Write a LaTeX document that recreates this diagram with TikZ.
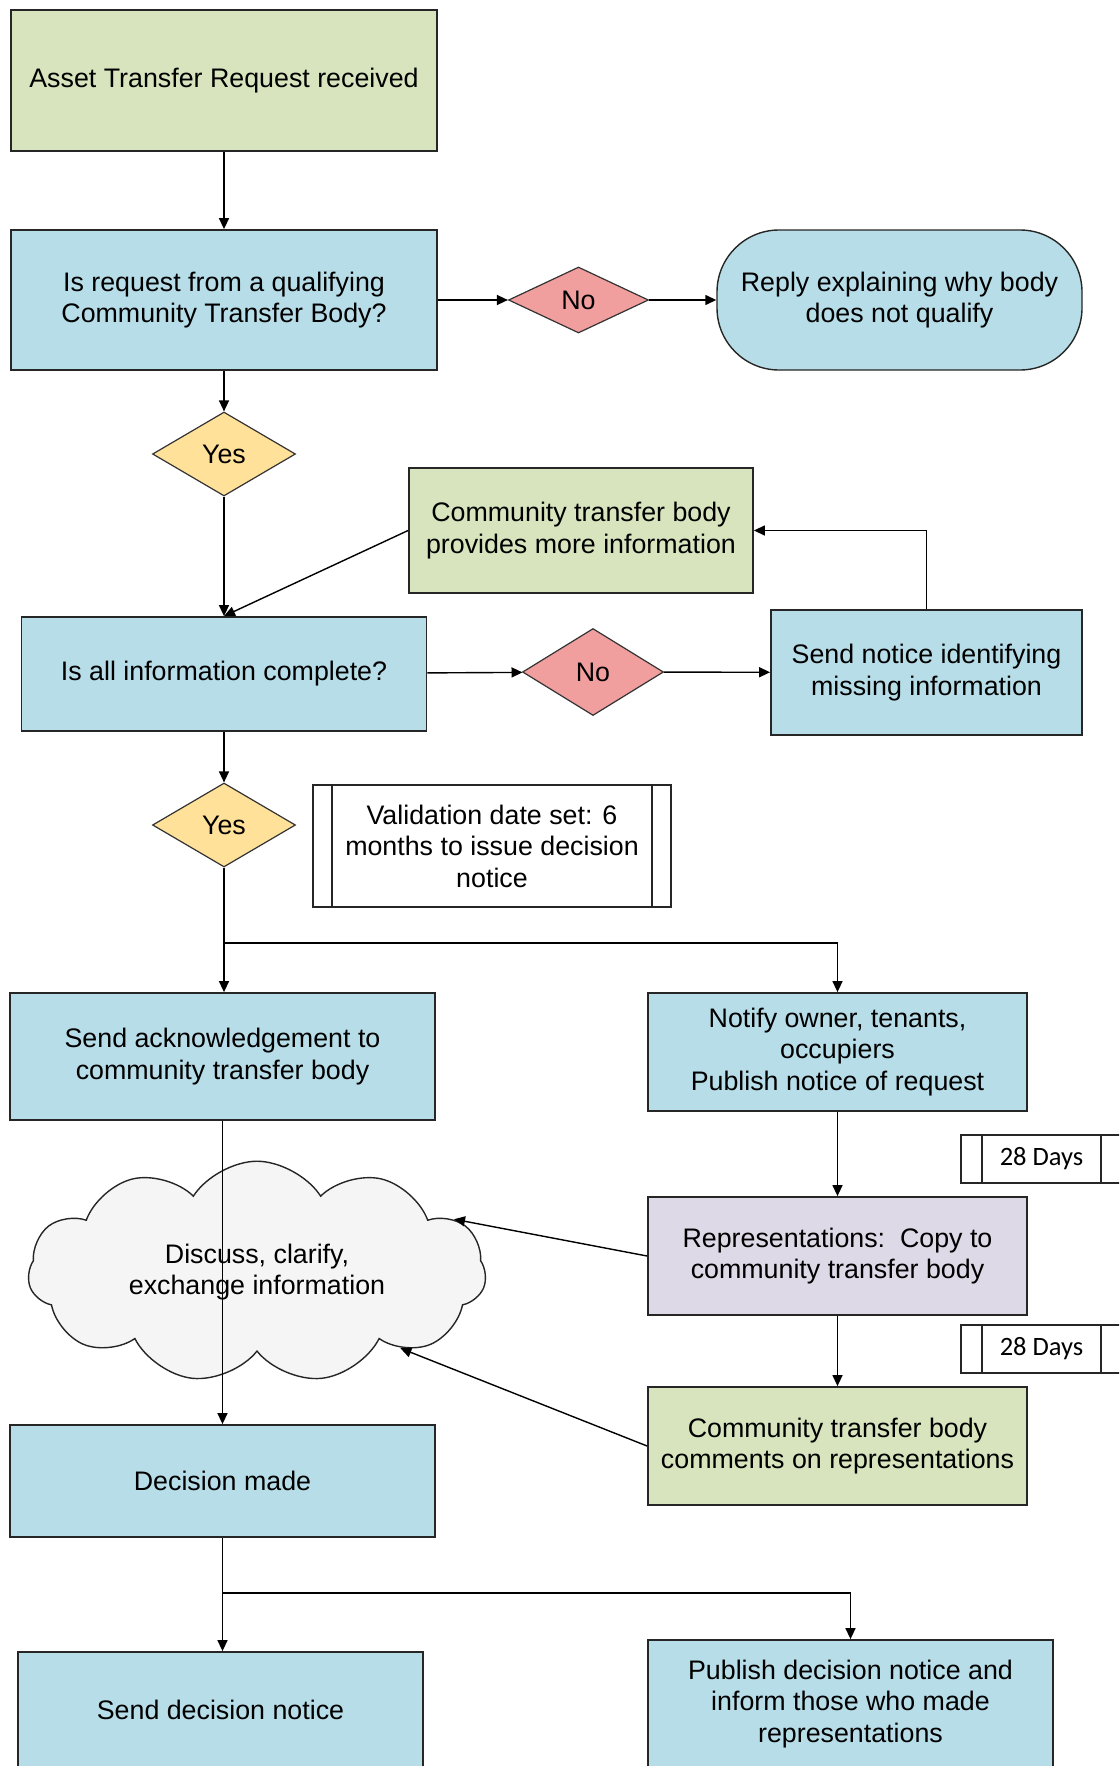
\documentclass[tikz,border=0pt]{standalone}
\usepackage{fontspec}
\setmainfont{Liberation Sans}
\newfontfamily\daysfont{Carlito}
\usetikzlibrary{shapes.geometric,shapes.symbols,arrows.meta}

\definecolor{stepGreen}{HTML}{D7E4BD}
\definecolor{stepBlue}{HTML}{B7DDE8}
\definecolor{stepLilac}{HTML}{DDD9E7}
\definecolor{noRed}{HTML}{F19E9E}
\definecolor{yesYellow}{HTML}{FFE199}
\definecolor{cloudGrey}{HTML}{F5F5F5}

\begin{document}
\begin{tikzpicture}
[x=1pt,y=-1pt,
  textDecorate/.style={font=\fontsize{26.8}{31.5}\selectfont,align=center,inner sep=0pt},
  boxDecorate/.style={textDecorate,shape=rectangle,draw=black!85,line width=1.8pt},
  noDecorate/.style={textDecorate,shape=diamond,draw=black!80,line width=1.2pt,fill=noRed},
  yesDecorate/.style={textDecorate,shape=diamond,draw=black!80,line width=1.2pt,fill=yesYellow,
    minimum width=143pt,minimum height=84pt},
  terminalDecorate/.style={boxDecorate,rounded corners=62pt,line width=1.4pt,fill=stepBlue},
  sideBars/.style={path picture={
    \draw[line width=1.6pt] ([xshift=#1]path picture bounding box.north west)
      -- ([xshift=#1]path picture bounding box.south west)
      ([xshift=-#1]path picture bounding box.north east)
      -- ([xshift=-#1]path picture bounding box.south east);}},
  noteDecorate/.style={boxDecorate,fill=white,sideBars=19pt},
  daysDecorate/.style={boxDecorate,fill=white,sideBars=21pt,font=\daysfont\fontsize{26.5}{31.5}\selectfont,
    minimum width=161pt,minimum height=48pt},
  cloudDecorate/.style={textDecorate,shape=cloud,cloud puffs=11,cloud puff arc=115,aspect=2.1,
    draw=black!85,line width=1.4pt,fill=cloudGrey,minimum width=458pt,minimum height=214pt},
  lineDecorate/.style={-{Triangle[length=11pt,width=10pt]},line width=1.4pt}]
\useasboundingbox (0,0) rectangle (1119,1766);
\clip (0,0) rectangle (1119,1766);
%% checking the request
\node (recv) at (224,80.5) [boxDecorate,fill=stepGreen,minimum width=426pt,minimum height=141pt]
  {Asset Transfer Request received};
\node (qual) at (224,300) [boxDecorate,fill=stepBlue,minimum width=426pt,minimum height=140pt]
  {Is request from a qualifying\\Community Transfer Body?};
\node (no1) at (578.5,300) [noDecorate,minimum width=140pt,minimum height=66pt] {No};
\node (reply) at (899.5,300) [terminalDecorate,minimum width=365pt,minimum height=140pt]
  {Reply explaining why body\\does not qualify};
\node (yes1) at (224,454) [yesDecorate] {Yes};
\node (more) at (581,530.5) [boxDecorate,fill=stepGreen,minimum width=344pt,minimum height=125pt]
  {Community transfer body\\provides more information};
\node (compl) at (224,674) [boxDecorate,fill=stepBlue,minimum width=405pt,minimum height=114pt]
  {Is all information complete?};
\node (no2) at (593,672) [noDecorate,minimum width=141pt,minimum height=87pt] {No};
\node (missing) at (926.5,672.5) [boxDecorate,fill=stepBlue,minimum width=311pt,minimum height=125pt]
  {Send notice identifying\\missing information};
\node (yes2) at (224,825) [yesDecorate] {Yes};
\node (valid) at (492,846) [noteDecorate,minimum width=358pt,minimum height=122pt]
  {Validation date set: 6\\months to issue decision\\notice};
%% after validation
\node (ack) at (222.5,1056.5) [boxDecorate,fill=stepBlue,minimum width=425pt,minimum height=127pt]
  {Send acknowledgement to\\community transfer body};
\node (notify) at (837.5,1052) [boxDecorate,fill=stepBlue,minimum width=379pt,minimum height=118pt]
  {Notify owner, tenants,\\occupiers\\Publish notice of request};
\node (days1) at (1041.5,1159) [daysDecorate] {28 Days};
\node (talk) at (257,1272) [cloudDecorate] {Discuss, clarify,\\exchange information};
\node (repr) at (837.5,1256) [boxDecorate,fill=stepLilac,minimum width=379pt,minimum height=118pt]
  {Representations:\ \ Copy to\\community transfer body};
\node (days2) at (1041.5,1349) [daysDecorate] {28 Days};
\node (comm) at (837.5,1446) [boxDecorate,fill=stepGreen,minimum width=379pt,minimum height=118pt]
  {Community transfer body\\comments on representations};
\node (decided) at (222.5,1481) [boxDecorate,fill=stepBlue,minimum width=425pt,minimum height=112pt]
  {Decision made};
\node (sendDec) at (220.5,1710) [boxDecorate,fill=stepBlue,minimum width=405pt,minimum height=116pt]
  {Send decision notice};
\node (publish) at (850.5,1704) [boxDecorate,fill=stepBlue,minimum width=405pt,minimum height=128pt]
  {Publish decision notice and\\inform those who made\\representations};
\coordinate (splitA) at (224,943);
\coordinate (splitB) at (222.5,1593);
%% connectors
\path
\foreach \startnode/\endnode in {recv/qual, qual/no1, no1/reply, qual/yes1, yes1/compl,
  more.west/compl.north, compl/no2, no2/missing, compl/yes2, ack/decided,
  notify/repr, repr/comm, repr.west/talk.15, comm.west/talk.-28}
{
  (\startnode) edge[lineDecorate] (\endnode)
};
\draw[lineDecorate] (missing.north) |- (more.east);
\draw[lineDecorate,-] (yes2.south) -- (splitA);
\draw[lineDecorate] (splitA) -- (splitA |- ack.north);
\draw[lineDecorate] (splitA) -| (notify.north);
\draw[lineDecorate,-] (decided.south) -- (splitB);
\draw[lineDecorate] (splitB) -- (splitB |- sendDec.north);
\draw[lineDecorate] (splitB) -| (publish.north);
\end{tikzpicture}
\end{document}
